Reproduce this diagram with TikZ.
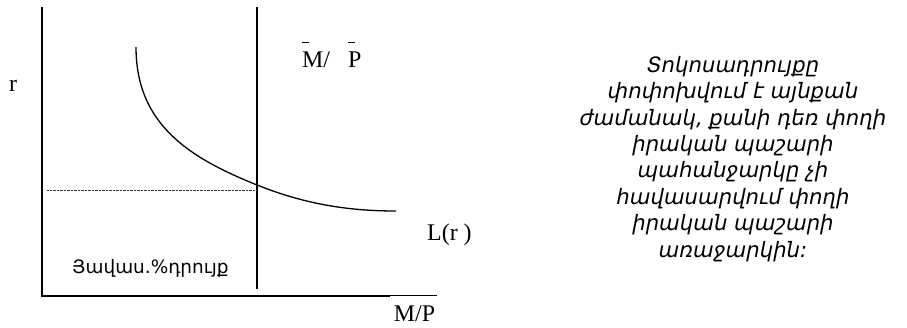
\documentclass[tikz,border=0pt]{standalone}
\usepackage{fontspec}
\setmainfont{Liberation Serif}
\newfontfamily\armup{DejaVu Sans}
\newfontfamily\armit{DejaVu Sans Oblique}
\newcommand\barover[1]{\makebox[0pt][l]{\raisebox{1.0em}{\rule{0.3em}{0.7pt}}}#1}
\tikzset{
  axis/.style={line width=1.3bp},
  curve/.style={line width=1.3bp},
  guide/.style={line width=0.9bp, dash pattern=on 0.8bp off 0.6bp, black!80},
  lbl/.style={inner sep=0pt, font=\fontsize{24}{28}\selectfont},
  armlbl/.style={inner sep=0pt, font=\armup\fontsize{18.5}{20}\selectfont},
  note/.style={inner sep=0pt, align=center, font=\armit\fontsize{21.3}{26.5}\selectfont}
}
\begin{document}
\begin{tikzpicture}[x=1bp,y=-1bp]
\useasboundingbox (0,0) rectangle (907,327);
% axes
\coordinate (o) at (42,296);
\coordinate (ytop) at (42,7);
\coordinate (xend) at (390,296);
\draw[axis] (ytop) -- (o) -- (xend);
% vertical supply line
\coordinate (stop) at (257,7);
\coordinate (sbot) at (257,289);
\draw[axis] (stop) -- (sbot);
% demand curve
\coordinate (c0) at (136,47);
\coordinate (eq) at (257,185);
\coordinate (c1) at (396,211);
\draw[curve] (c0) .. controls (136,125) and (190,158) .. (eq)
              .. controls (302,203) and (345,211) .. (c1);
% dotted guide
\coordinate (g0) at (47,190);
\coordinate (g1) at (257,190);
\draw[guide] (g0) -- (g1);
% labels
\node[lbl, anchor=base] (r) at (13,91) {r};
\node[lbl, anchor=base west] (mpbar) at (302,67) {\barover{M}/\hspace{0.75em}\barover{P}};
\node[lbl, anchor=base west] (lr) at (427,240) {L(r )};
\node[lbl, anchor=base] (mp) at (414.5,321) {M/P};
\coordinate (ol0) at (390,295.3);
\coordinate (ol1) at (437,295.3);
\draw[line width=0.7bp] (ol0) -- (ol1);
\node[armlbl, anchor=base west] (rate) at (72,273) {Յավաս.\%դրույք};
\node[note, anchor=base] (txt) at (733,257) {Տոկոսադրույքը\\
փոփոխվում է այնքան\\
ժամանակ, քանի դեռ փողի\\
իրական պաշարի\\
պահանջարկը չի\\
հավասարվում փողի\\
իրական պաշարի\\
առաջարկին:};
\end{tikzpicture}
\end{document}
